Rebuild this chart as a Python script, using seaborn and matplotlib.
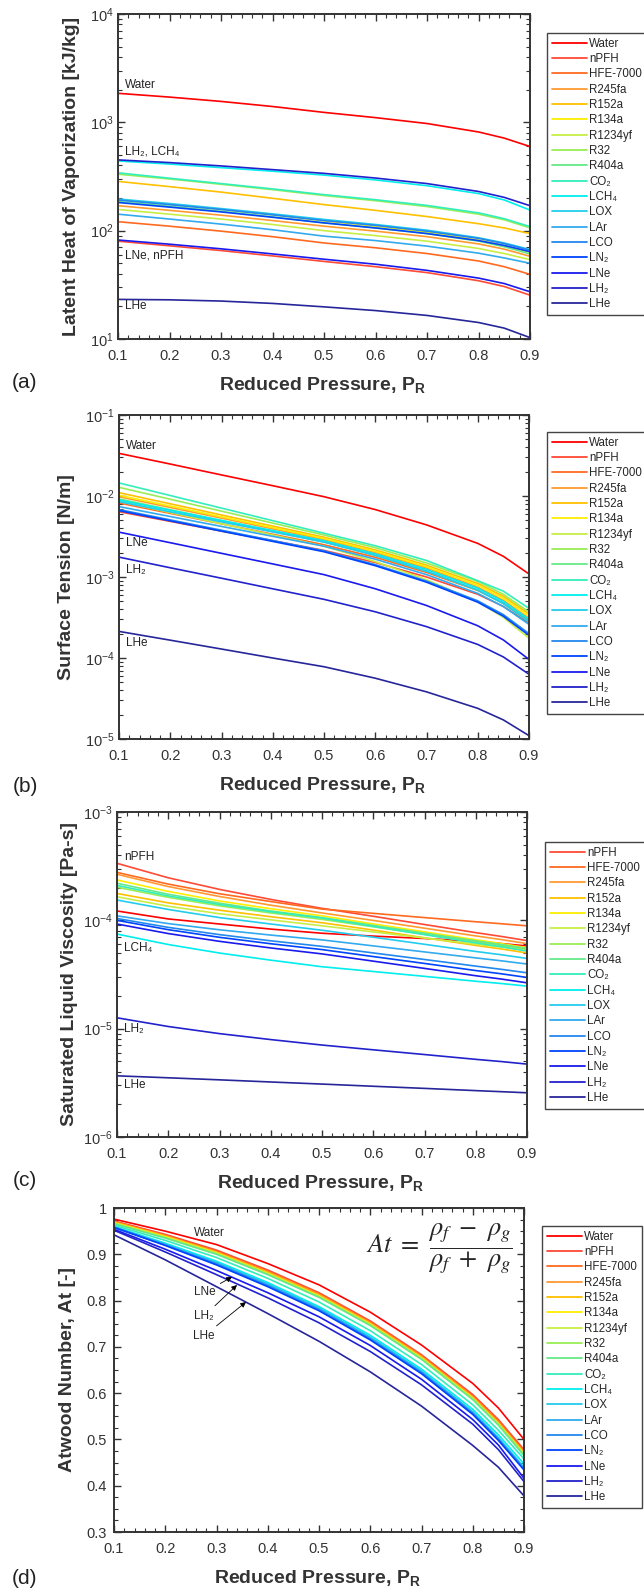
import matplotlib
matplotlib.use('Agg')
import matplotlib.pyplot as plt
import seaborn as sns
import pandas as pd
from matplotlib.ticker import MultipleLocator, FuncFormatter, LogLocator, NullFormatter

# ---------------- data ----------------
PR = [0.1, 0.2, 0.3, 0.4, 0.5, 0.6, 0.7, 0.8, 0.85, 0.9]

FLUIDS = ['Water', 'nPFH', 'HFE-7000', 'R245fa', 'R152a', 'R134a', 'R1234yf', 'R32',
          'R404a', 'CO₂', 'LCH₄', 'LOX', 'LAr', 'LCO', 'LN₂', 'LNe', 'LH₂', 'LHe']

COLORS = ['#ff0000', '#ff4a35', '#ff6a20', '#ff9a30', '#ffc000', '#ffee00', '#c8ee44',
          '#99ee55', '#66e888', '#33eebb', '#00eeee', '#22ccee', '#33aaee', '#2288ee',
          '#0044ff', '#1a1aee', '#2222cc', '#26269a']

LATENT_HEAT = [
    [1853, 1710, 1560, 1400, 1235, 1105, 975, 815, 715, 598],
    [80, 72.5, 65.5, 58.5, 52, 46.5, 41, 34.5, 30.5, 25.4],
    [121, 110, 99, 88, 77, 69.5, 61.5, 52.5, 46.5, 39.5],
    [170, 154, 139, 124, 110, 99, 88, 75.5, 67.5, 58],
    [285, 255, 227, 199, 174, 154, 135, 116, 106, 94],
    [193, 175, 157, 140, 123, 110, 97, 82, 73, 63],
    [157, 142, 128, 114, 100, 90, 80, 68.5, 61.5, 54],
    [332, 300, 268, 239, 211, 189, 167, 142, 126, 106],
    [186, 168, 151, 134, 118, 106, 94, 80, 71, 61],
    [342, 305, 272, 243, 215, 193, 171, 146, 129, 109],
    [440, 412, 382, 354, 326, 294, 260, 220, 192, 155],
    [196, 178, 160, 143, 127, 114, 101, 86, 77, 67],
    [142, 128, 115, 102, 89, 81, 72, 62, 56, 50],
    [192, 174, 157, 140, 124, 112, 99, 85, 76, 66],
    [182, 165, 149, 133, 118, 106, 94, 81, 73, 64],
    [82, 75, 68, 61, 54.5, 49, 43, 36.5, 32.5, 27.3],
    [450, 425, 396, 366, 338, 306, 272, 230, 203, 170],
    [23.2, 23.0, 22.4, 21.3, 19.8, 18.3, 16.5, 14.2, 12.6, 10.3],
]

SURFACE_TENSION = [
    [0.0336, 0.0248, 0.0182, 0.0134, 0.0098, 0.0068, 0.0044, 0.0026, 0.0018, 0.00109],
    [0.0064, 0.00486, 0.00369, 0.00281, 0.00213, 0.00151, 0.00100, 0.000612, 0.000433, 0.00027],
    [0.0082, 0.0061, 0.00453, 0.00337, 0.0025, 0.00175, 0.00114, 0.000682, 0.000474, 0.00029],
    [0.0098, 0.00722, 0.00533, 0.00393, 0.0029, 0.0020, 0.00129, 0.000751, 0.000516, 0.00031],
    [0.0110, 0.00801, 0.00583, 0.00425, 0.0031, 0.00216, 0.00140, 0.000832, 0.000577, 0.00035],
    [0.0102, 0.00752, 0.00553, 0.00407, 0.0030, 0.00208, 0.00134, 0.000792, 0.000547, 0.00033],
    [0.0086, 0.00625, 0.00454, 0.00330, 0.0024, 0.00155, 0.000925, 0.000494, 0.000318, 0.000175],
    [0.0128, 0.00912, 0.0065, 0.00463, 0.0033, 0.0023, 0.00149, 0.000883, 0.000611, 0.00037],
    [0.0092, 0.00677, 0.00498, 0.00367, 0.0027, 0.00185, 0.00118, 0.000689, 0.00047, 0.00028],
    [0.0145, 0.01014, 0.00709, 0.00496, 0.00347, 0.00243, 0.0016, 0.00090, 0.000668, 0.00041],
    [0.0089, 0.00666, 0.00499, 0.00374, 0.0028, 0.00193, 0.00124, 0.000728, 0.0005, 0.0003],
    [0.0085, 0.00638, 0.00479, 0.0036, 0.0027, 0.00185, 0.00118, 0.000689, 0.00047, 0.00028],
    [0.0074, 0.00558, 0.00421, 0.00318, 0.0024, 0.00166, 0.00107, 0.000628, 0.000432, 0.00026],
    [0.0068, 0.00507, 0.00378, 0.00282, 0.0021, 0.00142, 0.000891, 0.000508, 0.000343, 0.0002],
    [0.0066, 0.00493, 0.00368, 0.00275, 0.00205, 0.00138, 0.000863, 0.000489, 0.000328, 0.00019],
    [0.00358, 0.00265, 0.00196, 0.00145, 0.00107, 0.000716, 0.000445, 0.00025, 0.000167, 0.000096],
    [0.00176, 0.0013, 0.000966, 0.000715, 0.00053, 0.000372, 0.000244, 0.000147, 0.000103, 0.000063],
    [0.000213, 0.000166, 0.000129, 0.0001, 0.000078, 0.0000563, 0.0000382, 0.0000239, 0.0000172, 0.000011],
]

VISCOSITY = [
    [1.22e-4, 1.03e-4, 9.25e-5, 8.3e-5, 7.6e-5, 7.15e-5, 6.8e-5, 6.4e-5, 6.1e-5, 5.8e-5],
    [3.36e-4, 2.47e-4, 1.93e-4, 1.56e-4, 1.29e-4, 1.09e-4, 9.15e-5, 7.7e-5, 7.1e-5, 6.5e-5],
    [2.77e-4, 2.16e-4, 1.76e-4, 1.49e-4, 1.27e-4, 1.16e-4, 1.06e-4, 9.7e-5, 9.3e-5, 8.9e-5],
    [2.66e-4, 2.05e-4, 1.66e-4, 1.38e-4, 1.17e-4, 9.98e-5, 8.46e-5, 7.18e-5, 6.64e-5, 6.1e-5],
    [1.77e-4, 1.45e-4, 1.24e-4, 1.08e-4, 9.5e-5, 8.13e-5, 6.9e-5, 5.87e-5, 5.44e-5, 5.0e-5],
    [2.36e-4, 1.85e-4, 1.51e-4, 1.28e-4, 1.10e-4, 9.27e-5, 7.83e-5, 6.62e-5, 6.1e-5, 5.6e-5],
    [1.65e-4, 1.35e-4, 1.15e-4, 1.01e-4, 8.9e-5, 7.82e-5, 6.87e-5, 6.03e-5, 5.66e-5, 5.3e-5],
    [2.02e-4, 1.63e-4, 1.36e-4, 1.17e-4, 1.02e-4, 8.72e-5, 7.43e-5, 6.33e-5, 5.86e-5, 5.4e-5],
    [2.2e-4, 1.74e-4, 1.44e-4, 1.22e-4, 1.06e-4, 8.99e-5, 7.62e-5, 6.47e-5, 5.98e-5, 5.5e-5],
    [2.1e-4, 1.68e-4, 1.40e-4, 1.20e-4, 1.05e-4, 8.79e-5, 7.38e-5, 6.19e-5, 5.7e-5, 5.2e-5],
    [7.47e-5, 5.98e-5, 4.99e-5, 4.29e-5, 3.73e-5, 3.37e-5, 3.04e-5, 2.74e-5, 2.61e-5, 2.47e-5],
    [1.54e-4, 1.26e-4, 1.06e-4, 9.25e-5, 8.1e-5, 6.99e-5, 6.01e-5, 5.16e-5, 4.81e-5, 4.45e-5],
    [1.10e-4, 9.33e-5, 8.18e-5, 7.31e-5, 6.6e-5, 5.81e-5, 5.11e-5, 4.5e-5, 4.23e-5, 3.95e-5],
    [1.04e-4, 8.61e-5, 7.38e-5, 6.47e-5, 5.75e-5, 5.0e-5, 4.35e-5, 3.78e-5, 3.53e-5, 3.28e-5],
    [1.0e-4, 8.2e-5, 6.97e-5, 6.08e-5, 5.37e-5, 4.63e-5, 4.0e-5, 3.44e-5, 3.21e-5, 2.97e-5],
    [9.25e-5, 7.55e-5, 6.4e-5, 5.56e-5, 4.9e-5, 4.2e-5, 3.6e-5, 3.08e-5, 2.87e-5, 2.65e-5],
    [1.26e-5, 1.047e-5, 9.0e-6, 7.93e-6, 7.06e-6, 6.38e-6, 5.77e-6, 5.21e-6, 4.97e-6, 4.71e-6],
    [3.67e-6, 3.52e-6, 3.37e-6, 3.22e-6, 3.08e-6, 2.94e-6, 2.81e-6, 2.68e-6, 2.62e-6, 2.56e-6],
]

ATWOOD = [
    [0.976, 0.950, 0.921, 0.880, 0.834, 0.775, 0.704, 0.621, 0.568, 0.500],
    [0.972, 0.943, 0.909, 0.866, 0.817, 0.756, 0.683, 0.597, 0.543, 0.478],
    [0.971, 0.941, 0.907, 0.864, 0.815, 0.754, 0.681, 0.594, 0.540, 0.475],
    [0.970, 0.940, 0.905, 0.862, 0.813, 0.752, 0.679, 0.592, 0.537, 0.472],
    [0.969, 0.939, 0.904, 0.860, 0.811, 0.750, 0.677, 0.590, 0.535, 0.470],
    [0.968, 0.938, 0.903, 0.859, 0.810, 0.749, 0.676, 0.589, 0.534, 0.469],
    [0.967, 0.937, 0.902, 0.858, 0.809, 0.748, 0.675, 0.588, 0.533, 0.468],
    [0.967, 0.936, 0.901, 0.857, 0.808, 0.747, 0.674, 0.587, 0.532, 0.467],
    [0.966, 0.935, 0.900, 0.856, 0.807, 0.746, 0.673, 0.586, 0.531, 0.465],
    [0.963, 0.930, 0.893, 0.848, 0.797, 0.735, 0.662, 0.575, 0.520, 0.458],
    [0.960, 0.924, 0.885, 0.839, 0.787, 0.725, 0.652, 0.565, 0.510, 0.447],
    [0.959, 0.922, 0.882, 0.836, 0.784, 0.721, 0.648, 0.560, 0.504, 0.440],
    [0.959, 0.921, 0.881, 0.834, 0.782, 0.719, 0.646, 0.558, 0.502, 0.438],
    [0.958, 0.920, 0.879, 0.832, 0.780, 0.717, 0.644, 0.556, 0.500, 0.436],
    [0.958, 0.919, 0.877, 0.830, 0.778, 0.715, 0.642, 0.554, 0.498, 0.434],
    [0.954, 0.911, 0.865, 0.817, 0.765, 0.703, 0.630, 0.543, 0.488, 0.416],
    [0.952, 0.905, 0.856, 0.806, 0.752, 0.690, 0.618, 0.533, 0.478, 0.409],
    [0.942, 0.888, 0.830, 0.772, 0.712, 0.646, 0.572, 0.487, 0.440, 0.378],
]

YLABELS = ['Latent Heat of Vaporization [kJ/kg]', 'Surface Tension [N/m]',
           'Saturated Liquid Viscosity [Pa-s]', 'Atwood Number, At [-]']
PANEL_TAGS = ['(a)', '(b)', '(c)', '(d)']
XLABEL = r'Reduced Pressure, P$_\mathbf{R}$'

# ---------------- style ----------------
sns.set_theme(style='ticks')
plt.rcParams['font.family'] = ['Liberation Sans', 'DejaVu Sans']
plt.rcParams['mathtext.fontset'] = 'custom'
plt.rcParams['mathtext.rm'] = 'Liberation Sans'
plt.rcParams['mathtext.it'] = 'Liberation Sans:italic'
plt.rcParams['mathtext.bf'] = 'Liberation Sans:bold'
plt.rcParams['axes.linewidth'] = 1.4
plt.rcParams['axes.edgecolor'] = '#333333'

W, H = 644, 1592
fig = plt.figure(figsize=(W / 100, H / 100), dpi=100)

# axes boxes in pixels: left, top, right, bottom
BOXES = [(118, 14, 530, 339), (119, 415, 529, 739), (117, 812, 527, 1137), (114, 1208, 524, 1532)]
LEG_POS = [(547, 33), (547, 432), (545, 842), (542, 1226)]
YLAB_X = [72, 67, 70, 68]
TAG_Y = [383, 786, 1180, 1578]
XLAB_Y = [385, 785, 1183, 1578]

palette = dict(zip(FLUIDS, COLORS))


def long_df(values, names):
    rows = []
    for name, vals in zip(names, values):
        for x, v in zip(PR, vals):
            rows.append((name, x, v))
    return pd.DataFrame(rows, columns=['fluid', 'PR', 'val'])


datasets = [LATENT_HEAT, SURFACE_TENSION, VISCOSITY, ATWOOD]
axes = []
for i, (l, t, r, b) in enumerate(BOXES):
    ax = fig.add_axes([l / W, 1 - b / H, (r - l) / W, (b - t) / H])
    axes.append(ax)
    data = datasets[i]
    if i == 2:
        # Water is drawn but not listed in the legend
        wdf = long_df([data[0]], ['Water'])
        sns.lineplot(data=wdf, x='PR', y='val', color=palette['Water'], lw=1.2,
                     ax=ax, legend=False, estimator=None)
        names = FLUIDS[1:]
        df = long_df(data[1:], names)
    else:
        names = FLUIDS
        df = long_df(data, names)
    sns.lineplot(data=df, x='PR', y='val', hue='fluid', hue_order=names, palette=palette,
                 lw=1.2, ax=ax, estimator=None, sort=True)

    ax.set_xlim(0.1, 0.9)
    if i == 0:
        ax.set_yscale('log'); ax.set_ylim(10, 1e4)
    elif i == 1:
        ax.set_yscale('log'); ax.set_ylim(1e-5, 1e-1)
    elif i == 2:
        ax.set_yscale('log'); ax.set_ylim(1e-6, 1e-3)
    else:
        ax.set_ylim(0.3, 1.0)
        ax.yaxis.set_major_locator(MultipleLocator(0.1))
        ax.yaxis.set_minor_locator(MultipleLocator(0.025))
        ax.yaxis.set_major_formatter(FuncFormatter(lambda v, p: '%g' % round(v, 2)))
    if i < 3:
        ax.yaxis.set_major_locator(LogLocator(base=10, numticks=10))
        ax.yaxis.set_minor_locator(LogLocator(base=10, subs=[2, 3, 4, 5, 6, 7, 8, 9], numticks=20))
        ax.yaxis.set_minor_formatter(NullFormatter())
    ax.xaxis.set_major_locator(MultipleLocator(0.1))
    ax.xaxis.set_minor_locator(MultipleLocator(0.02))
    ax.xaxis.set_major_formatter(FuncFormatter(lambda v, p: '%g' % round(v, 2)))
    ax.tick_params(which='both', direction='in', top=True, right=True, colors='#333333',
                   labelcolor='#333333')
    ax.tick_params(which='major', length=5, width=1.0, labelsize=10.5)
    ax.tick_params(which='minor', length=3, width=0.8)
    ax.tick_params(axis='x', which='major', pad=7)
    ax.tick_params(axis='y', which='major', pad=3 if i < 3 else 5)

    ax.set_xlabel(XLABEL, fontsize=14, fontweight='bold', color='#333333', va='center')
    ax.xaxis.set_label_coords(0.497, (b - XLAB_Y[i]) / (b - t))
    ax.set_ylabel(YLABELS[i], fontsize=14, fontweight='bold', color='#333333', va='center')
    ax.yaxis.set_label_coords((YLAB_X[i] - l) / (r - l), 0.5)

    fig.text(25 / W, 1 - TAG_Y[i] / H, PANEL_TAGS[i], fontsize=15, ha='center', va='center',
             color='#222222')

    lx, ly = LEG_POS[i]
    sns.move_legend(ax, 'upper left', bbox_to_anchor=(lx / W, 1 - ly / H),
                    bbox_transform=fig.transFigure, title=None, frameon=True, fontsize=8.3,
                    labelspacing=0.29, handlelength=3.1, handletextpad=0.15, borderpad=0.4,
                    borderaxespad=0, fancybox=False)
    leg = ax.get_legend()
    leg.get_frame().set_edgecolor('#444444')
    leg.get_frame().set_linewidth(1.0)
    leg.get_frame().set_alpha(1)
    for h in leg.get_lines():
        h.set_linewidth(1.3)


def px_to_axes(ax_i, px, py):
    l, t, r, b = BOXES[ax_i]
    return (px - l) / (r - l), (b - py) / (b - t)


ANNOT_A = [('Water', 125, 85), ('LH₂, LCH₄', 125, 152), ('LNe, nPFH', 125, 255), ('LHe', 125, 306)]
ANNOT_B = [('Water', 126, 446), ('LNe', 126, 543), ('LH₂', 126, 570), ('LHe', 126, 643)]
ANNOT_C = [('nPFH', 124, 857), ('LCH₄', 124, 948), ('LH₂', 124, 1029), ('LHe', 124, 1085)]
for i, ann in enumerate([ANNOT_A, ANNOT_B, ANNOT_C]):
    for txt, px, py in ann:
        fx, fy = px_to_axes(i, px, py)
        axes[i].text(fx, fy, txt, transform=axes[i].transAxes, ha='left', va='center',
                     fontsize=8.5, color='#222222')

ax = axes[3]
fx, fy = px_to_axes(3, 209, 1233)
ax.text(fx, fy, 'Water', transform=ax.transAxes, ha='center', va='center', fontsize=8.5)
ARROWS_D = [('LNe', (205, 1292), (232, 1277)), ('LH₂', (204, 1316), (237, 1285)),
            ('LHe', (204, 1336), (246, 1302))]
for txt, (tx, ty), (hx, hy) in ARROWS_D:
    ax.annotate(txt, xy=px_to_axes(3, hx, hy), xytext=px_to_axes(3, tx, ty),
                xycoords='axes fraction', textcoords='axes fraction', ha='center', va='center',
                fontsize=8.5,
                arrowprops=dict(arrowstyle='-|>', color='black', lw=0.6, mutation_scale=8,
                                shrinkA=1, shrinkB=0))
fx, fy = px_to_axes(3, 439, 1249)
ax.text(fx, fy, r'$At\ =\ \dfrac{\rho_f\ -\ \rho_g}{\rho_f\ +\ \rho_g}$', transform=ax.transAxes,
        ha='center', va='center', fontsize=19, math_fontfamily='stix')

fig.savefig('out.png', dpi=100)
